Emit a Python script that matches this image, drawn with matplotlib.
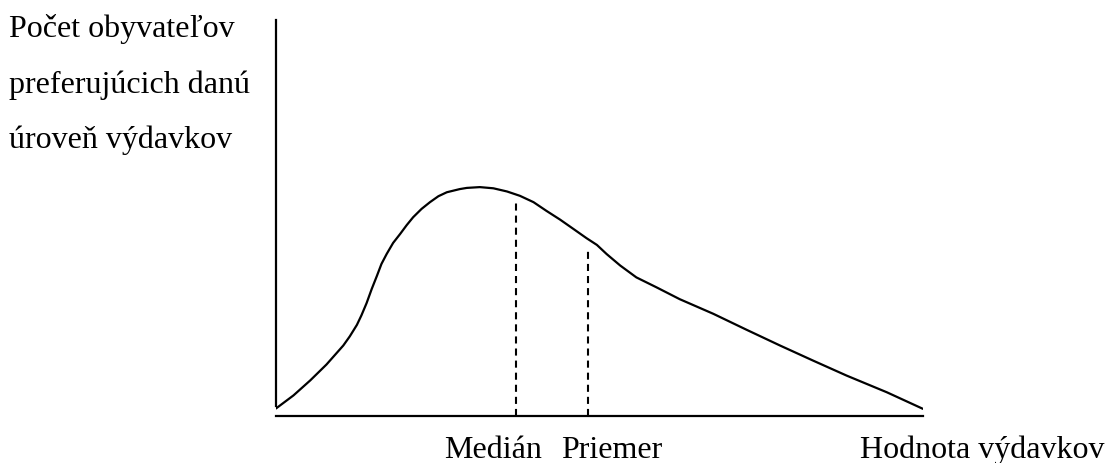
import matplotlib
matplotlib.use("Agg")
import matplotlib.pyplot as plt

# curve (x: spending 0-100, y: number of residents 0-100)
curve_x = [0, 2.7, 5.3, 7.8, 10.4, 11.4, 12.5, 13.2, 14.0, 14.8, 15.6, 16.3,
           17.1, 18.1, 19.2, 20.2, 21.2, 22.5, 23.8, 25.1, 26.4, 28.4, 29.5,
           31.5, 33.6, 35.7, 37.7, 39.8, 41.8, 43.9, 46.0, 48.0, 49.6, 51.1,
           53.2, 55.7, 58.8, 62.4, 67.6, 72.7, 77.9, 83.0, 88.2, 94.4, 100]
curve_y = [1.9, 5.2, 9.0, 13.0, 17.8, 20.1, 23.0, 25.4, 28.5, 32.1, 35.4, 38.4,
           40.9, 43.7, 46.0, 48.2, 50.2, 52.3, 54.0, 55.5, 56.5, 57.3, 57.6,
           57.8, 57.5, 56.7, 55.6, 54.0, 51.8, 49.6, 47.2, 44.9, 43.2, 40.9,
           38.0, 35.0, 32.5, 29.5, 25.8, 21.8, 17.8, 14.0, 10.2, 6.0, 1.8]

median_x, median_y = 37.1, 54.3
mean_x, mean_y = 48.2, 42.2

y_label_lines = ["Počet obyvateľov", "preferujúcich danú", "úroveň výdavkov"]
median_label = "Medián"
mean_label = "Priemer"
x_label = "Hodnota výdavkov"

W, H = 1108, 464
fig = plt.figure(figsize=(W / 100, H / 100), dpi=100)
ax = fig.add_axes([276 / W, (H - 417) / H, (923 - 276) / W, (417 - 21) / H])
ax.set_xlim(0, 100)
ax.set_ylim(0, 100)

ax.plot(curve_x, curve_y, color="black", lw=1.6,
        solid_capstyle="round", solid_joinstyle="round")
ax.plot([median_x, median_x], [0, median_y], color="black", lw=1.5,
        dashes=(3.4, 2.4))
ax.plot([mean_x, mean_x], [0, mean_y], color="black", lw=1.5,
        dashes=(3.4, 2.4))

for s in ["top", "right"]:
    ax.spines[s].set_visible(False)
ax.spines["left"].set_linewidth(1.6)
ax.spines["bottom"].set_linewidth(1.6)
ax.spines["left"].set_bounds(2.5, 100)
ax.set_xticks([])
ax.set_yticks([])
ax.patch.set_visible(False)

font = dict(family="Liberation Serif", fontsize=23, color="black")
for line, base in zip(y_label_lines, [37, 93, 148]):
    fig.text(9 / W, 1 - base / H, line, ha="left", va="baseline", **font)
fig.text(542 / W, 1 - 458 / H, median_label, ha="right", va="baseline", **font)
fig.text(561 / W, 1 - 458 / H, mean_label, ha="left", va="baseline", **font)
fig.text(860 / W, 1 - 458 / H, x_label, ha="left", va="baseline", **font)

fig.savefig("out.png", dpi=100)
